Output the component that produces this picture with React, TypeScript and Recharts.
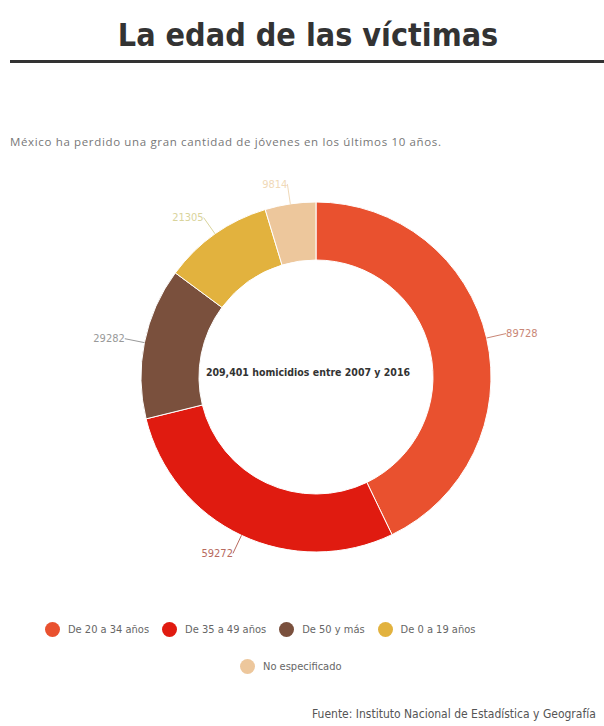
import React from 'react';
import { PieChart, Pie, Cell, Legend } from 'recharts';

const categories = ['De 20 a 34 años', 'De 35 a 49 años', 'De 50 y más', 'De 0 a 19 años', 'No especificado'];
const values = [89728, 59272, 29282, 21305, 9814];
const colors = ['#E9512F', '#E01B10', '#7A503D', '#E2B23E', '#EDC79C'];
const labelColors = ['#C98676', '#B86A5E', '#999999', '#D9D49C', '#F0D9B8'];

const data = categories.map((name, i) => ({ name, value: values[i] }));

const FONT = '"Liberation Sans Narrow", "DejaVu Sans Condensed", "Open Sans", sans-serif';

const RADIAN = Math.PI / 180;

const renderLabel = (props: any) => {
  const { cx, cy, midAngle, outerRadius, index, value } = props;
  const r = outerRadius + 20;
  const x = cx + r * Math.cos(-midAngle * RADIAN);
  const y = cy + r * Math.sin(-midAngle * RADIAN);
  return (
    <text
      x={x}
      y={y}
      fill={labelColors[index]}
      fontSize={11}
      fontFamily={FONT}
      textAnchor={x > cx ? 'start' : 'end'}
      dominantBaseline="central"
    >
      {value}
    </text>
  );
};

const LegendItem = ({ name, color }: { name: string; color: string }) => (
  <div style={{ display: 'flex', alignItems: 'center', marginRight: 13 }}>
    <span
      style={{
        display: 'inline-block',
        width: 15,
        height: 15,
        borderRadius: 8,
        background: color,
        marginRight: 8,
      }}
    />
    {name}
  </div>
);

const renderLegend = () => (
  <div style={{ fontFamily: FONT, fontSize: 11, color: '#666' }}>
    <div style={{ display: 'flex', paddingLeft: 45, height: 18, alignItems: 'center' }}>
      {categories.slice(0, 4).map((c, i) => (
        <LegendItem key={c} name={c} color={colors[i]} />
      ))}
    </div>
    <div style={{ display: 'flex', paddingLeft: 240, marginTop: 19, height: 18, alignItems: 'center' }}>
      <LegendItem name={categories[4]} color={colors[4]} />
    </div>
  </div>
);

export default function App() {
  return (
    <div style={{ position: 'absolute', left: 0, top: 0, width: 604, height: 726, background: '#fff', overflow: 'hidden' }}>
      <div
        style={{
          position: 'absolute',
          top: 16,
          left: 6,
          width: 604,
          textAlign: 'center',
          fontFamily: FONT,
          fontWeight: 700,
          fontSize: 32,
          color: '#333',
        }}
      >
        La edad de las víctimas
      </div>
      <div style={{ position: 'absolute', top: 60, left: 10, width: 594, height: 3, background: '#333' }} />
      <div
        style={{
          position: 'absolute',
          top: 134,
          left: 10,
          fontFamily: '"Open Sans", sans-serif',
          fontSize: 11.5,
          letterSpacing: 0.65,
          color: '#777',
          whiteSpace: 'nowrap',
        }}
      >
        México ha perdido una gran cantidad de jóvenes en los últimos 10 años.
      </div>
      <div style={{ position: 'absolute', top: 0, left: 0 }}>
        <PieChart width={604} height={700}>
          <Pie
            data={data}
            dataKey="value"
            nameKey="name"
            cx={311}
            cy={372}
            innerRadius={117}
            outerRadius={175}
            startAngle={90}
            endAngle={-270}
            stroke="#fff"
            strokeWidth={1}
            label={renderLabel}
            labelLine={(p: any) => (
              <path
                d={`M${p.points[0].x},${p.points[0].y}L${p.points[1].x},${p.points[1].y}`}
                stroke={labelColors[p.index]}
                fill="none"
              />
            )}
            isAnimationActive={false}
          >
            {data.map((d, i) => (
              <Cell key={d.name} fill={colors[i]} />
            ))}
          </Pie>
          <text
            x={308}
            y={372}
            textAnchor="middle"
            dominantBaseline="central"
            fill="#333"
            fontSize={10.5}
            fontWeight={700}
            fontFamily={FONT}
          >
            209,401 homicidios entre 2007 y 2016
          </text>
          <Legend content={renderLegend} wrapperStyle={{ position: 'absolute', top: 620, left: 0, width: 604 }} />
        </PieChart>
      </div>
      <div
        style={{
          position: 'absolute',
          top: 707,
          left: 312,
          whiteSpace: 'nowrap',
          fontFamily: FONT,
          fontSize: 12,
          color: '#555',
        }}
      >
        Fuente: Instituto Nacional de Estadística y Geografía
      </div>
    </div>
  );
}
